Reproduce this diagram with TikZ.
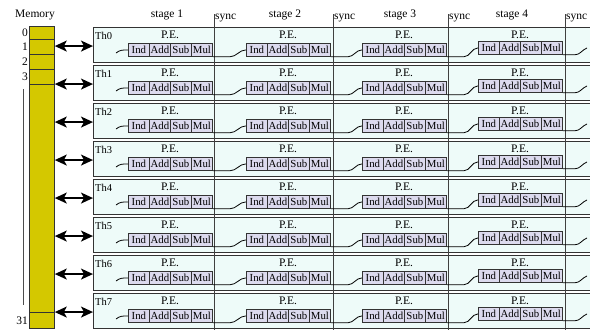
\documentclass[tikz,border=0pt]{standalone}
\usepackage{fontspec}
\setmainfont{Liberation Serif}
\usetikzlibrary{arrows.meta,calc}
\definecolor{memy}{HTML}{D4C800}
\definecolor{rowbg}{HTML}{EEFBF9}
\definecolor{cellbg}{HTML}{DCDAEE}
\definecolor{edgec}{HTML}{333333}
\begin{document}
\begin{tikzpicture}[x=1pt,y=-1pt,
 memcell/.style={draw=black!80, fill=memy, line width=0.8pt, minimum width=25pt, inner sep=0, anchor=north west},
 rowbox/.style={draw=edgec, fill=rowbg, line width=1.1pt, minimum width=510pt, minimum height=35pt, inner sep=0, anchor=north west},
 unit/.style={draw=edgec, fill=cellbg, line width=0.8pt, minimum width=21pt, minimum height=13pt, inner sep=0, font=\fontsize{10.8}{11}\selectfont, anchor=north west},
 lbl/.style={font=\fontsize{11.5}{13}\selectfont, inner sep=0},
 thl/.style={font=\fontsize{10.5}{12}\selectfont, inner sep=0, anchor=west},
 dbl/.style={{Stealth[length=12pt,width=11pt,inset=3pt]}-{Stealth[length=12pt,width=11pt,inset=3pt]}, line width=1.5pt},
 link/.style={draw=black, line width=0.8pt},
 syncline/.style={draw=black!75, line width=0.8pt},
 dotline/.style={draw=black!70, line width=0.8pt}]
\useasboundingbox (0,0) rectangle (590,333);

% memory column
\node[lbl] (memlbl) at (35,15) {Memory};
\node[memcell, minimum height=13pt] (m0) at (29,26) {};
\node[memcell, minimum height=15pt] (m1) at (29,39) {};
\node[memcell, minimum height=15pt] (m2) at (29,54) {};
\node[memcell, minimum height=15pt] (m3) at (29,69) {};
\node[memcell, minimum height=228pt] (mrest) at (29,84) {};
\node[memcell, minimum height=16pt] (m31) at (29,312) {};
\node[lbl, anchor=east, xshift=-1pt] (i0) at (m0.west) {0};
\node[lbl, anchor=east, xshift=-1pt] (i1) at (m1.west) {1};
\node[lbl, anchor=east, xshift=-1pt] (i2) at (m2.west) {2};
\node[lbl, anchor=east, xshift=-1pt] (i3) at (m3.west) {3};
\node[lbl, anchor=east, xshift=-1pt] (i31) at (m31.west) {31};
\coordinate (dtop) at (23,89);
\coordinate (dbot) at (23,305);
\draw[dotline] (dtop) -- (dbot);

% stage labels
\node[lbl] (st1) at (167,15) {stage 1};
\node[lbl] (st2) at (285,15) {stage 2};
\node[lbl] (st3) at (400,15) {stage 3};
\node[lbl] (st4) at (512,15) {stage 4};

% rows
\foreach \r in {0,...,7} {
  \pgfmathsetmacro\t{27+38*\r}
  \node[rowbox] (row\r) at (93,\t) {};
  \node[thl] (th\r) at (95,\t+9) {Th\r};
  \draw[dbl] ([yshift=-1pt]m0.east |- row\r.west) -- ([yshift=-1pt]row\r.west);
}

% sync lines
\foreach \x/\n in {214/1,333/2,448/3,565/4} {
  \coordinate (sy\n t) at (\x,14);
  \coordinate (sy\n b) at (\x,330);
  \draw[syncline] (sy\n t) -- (sy\n b);
  \node[lbl, anchor=west] (syl\n) at (\x+1,18) {sync};
}

% processing elements
\foreach \r in {0,...,7} {
  \pgfmathsetmacro\t{27+38*\r}
  \foreach \s/\x/\o in {1/128/16, 2/246/16, 3/362/16, 4/478/14} {
    \node[unit] (u\r-\s-1) at (\x,\t+\o) {Ind};
    \node[unit] (u\r-\s-2) at (\x+21,\t+\o) {Add};
    \node[unit] (u\r-\s-3) at (\x+42,\t+\o) {Sub};
    \node[unit] (u\r-\s-4) at (\x+63,\t+\o) {Mul};
    \node[lbl] (pe\r-\s) at (\x+42,\t+7.5) {P.E.};
  }
  \foreach \s [evaluate=\s as \n using int(\s+1)] in {1,2,3} {
    \draw[link] (u\r-\s-4.south east) -- ++(17,0) to[out=0,in=180] (u\r-\n-1.west);
  }
  \coordinate (in\r) at (116,\t+26);
  \draw[link] (in\r) to[out=40,in=180] (u\r-1-1.west);
  \coordinate (out\r) at (587,\t+21);
  \draw[link] (u\r-4-4.south east) -- ++(12,0) to[out=0,in=200] (out\r);
}
\end{tikzpicture}
\end{document}
